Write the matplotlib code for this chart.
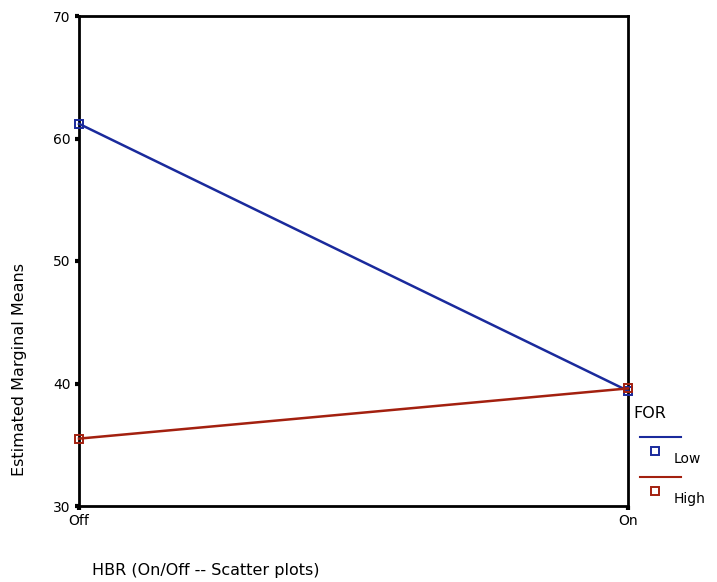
import matplotlib
matplotlib.use("Agg")
import matplotlib.pyplot as plt
from matplotlib.lines import Line2D

categories = ["Off", "On"]
low_values = [61.2, 39.4]
high_values = [35.5, 39.6]
series_names = ["Low", "High"]
y_ticks = [30, 40, 50, 60, 70]

BLUE = "#1a2a9c"
RED = "#a3200f"

plt.rcParams['font.family'] = ['DejaVu Sans']
fig = plt.figure(figsize=(7.17, 5.82), dpi=100)
ax = fig.add_axes([79/717, 1-506/582, (628-79)/717, (506-16)/582])

x = list(range(len(categories)))
ax.plot(x, low_values, color=BLUE, lw=1.8, marker='s', ms=6, mfc='none', mec=BLUE, mew=1.4, clip_on=False, zorder=3)
ax.plot(x, high_values, color=RED, lw=1.8, marker='s', ms=6, mfc='none', mec=RED, mew=1.4, clip_on=False, zorder=3)

ax.set_xlim(0, 1)
ax.set_ylim(30, 70)
ax.set_xticks(x)
ax.set_xticklabels(categories, fontsize=10)
ax.set_yticks(y_ticks)
ax.set_yticklabels([str(t) for t in y_ticks], fontsize=10)
ax.tick_params(axis='both', direction='out', length=3, width=3, color='black', pad=3)
for s in ax.spines.values():
    s.set_linewidth(2)
    s.set_color('black')

fig.text(20/717, 1-370/582, "Estimated Marginal Means", rotation=90, ha='center', va='center', fontsize=11.5)
fig.text(92/717, 1-570/582, "HBR (On/Off -- Scatter plots)", ha='left', va='center', fontsize=11.5)

# legend
fig.text(633/717, 1-413/582, "FOR", ha='left', va='center', fontsize=11.5)
for i, (name, col) in enumerate(zip(series_names, [BLUE, RED])):
    yl = 437 + 40*i
    fig.add_artist(Line2D([640/717, 681/717], [1-yl/582, 1-yl/582], color=col, lw=1.5, transform=fig.transFigure))
    fig.add_artist(Line2D([655/717], [1-(yl+14)/582], marker='s', ms=6, mfc='none', mec=col, mew=1.4, transform=fig.transFigure))
    fig.text(674/717, 1-(yl+22)/582, name, ha='left', va='center', fontsize=10)

fig.savefig("out.png", dpi=100)
